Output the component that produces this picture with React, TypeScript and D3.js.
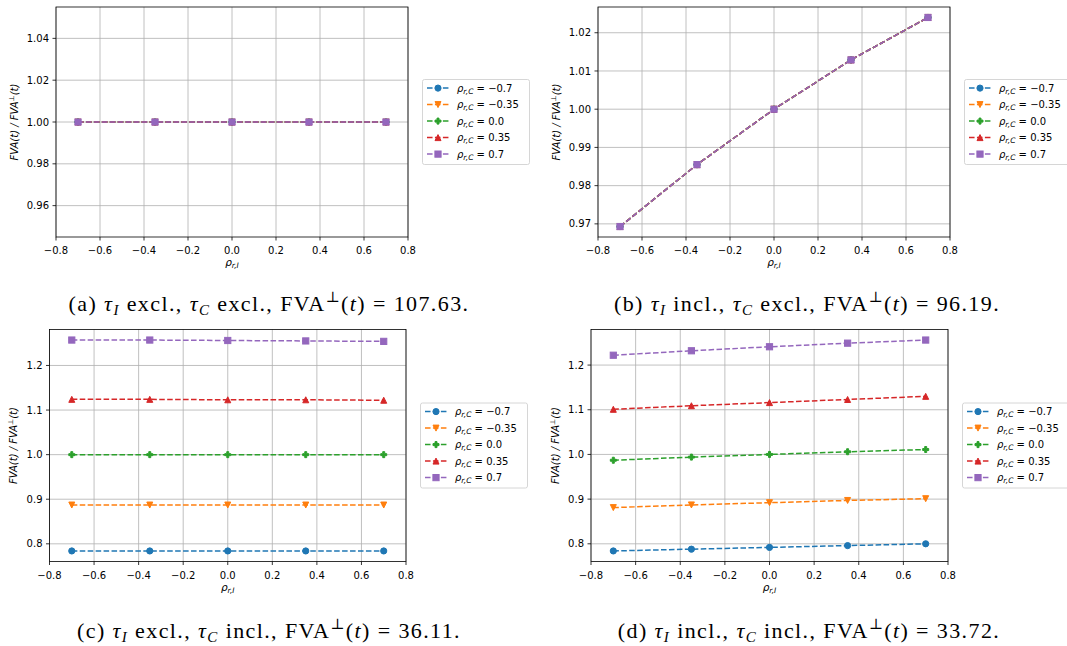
import React from "react";
import * as d3 from "d3";

// ---------- data ----------
const rhoRI = [-0.7, -0.35, 0.0, 0.35, 0.7];
const rhoRCLabels = ["\u22120.7", "\u22120.35", "0.0", "0.35", "0.7"];
const seriesColors = ["#1f77b4", "#ff7f0e", "#2ca02c", "#d62728", "#9467bd"];
const seriesMarkers = ["circle", "triangleDown", "plus", "triangleUp", "square"];

const xTicks = [-0.8, -0.6, -0.4, -0.2, 0.0, 0.2, 0.4, 0.6, 0.8];
const xDomain = [-0.8, 0.8];

// (a) tau_I excl., tau_C excl.
const aSeries1 = [1.0, 1.0, 1.0, 1.0, 1.0];
const aSeries2 = [1.0, 1.0, 1.0, 1.0, 1.0];
const aSeries3 = [1.0, 1.0, 1.0, 1.0, 1.0];
const aSeries4 = [1.0, 1.0, 1.0, 1.0, 1.0];
const aSeries5 = [1.0, 1.0, 1.0, 1.0, 1.0];
const aYTicks = [0.96, 0.98, 1.0, 1.02, 1.04];

// (b) tau_I incl., tau_C excl.
const bSeries1 = [0.9693, 0.9855, 1.0, 1.0129, 1.024];
const bSeries2 = [0.9693, 0.9855, 1.0, 1.0129, 1.024];
const bSeries3 = [0.9693, 0.9855, 1.0, 1.0129, 1.024];
const bSeries4 = [0.9693, 0.9855, 1.0, 1.0129, 1.024];
const bSeries5 = [0.9693, 0.9855, 1.0, 1.0129, 1.024];
const bYTicks = [0.97, 0.98, 0.99, 1.0, 1.01, 1.02];

// (c) tau_I excl., tau_C incl.
const cSeries1 = [0.784, 0.784, 0.784, 0.784, 0.784];
const cSeries2 = [0.887, 0.887, 0.887, 0.887, 0.887];
const cSeries3 = [1.0, 1.0, 1.0, 1.0, 1.0];
const cSeries4 = [1.124, 1.124, 1.123, 1.123, 1.122];
const cSeries5 = [1.257, 1.257, 1.256, 1.255, 1.254];
const cYTicks = [0.8, 0.9, 1.0, 1.1, 1.2];

// (d) tau_I incl., tau_C incl.
const dSeries1 = [0.784, 0.788, 0.792, 0.796, 0.8];
const dSeries2 = [0.881, 0.887, 0.892, 0.897, 0.901];
const dSeries3 = [0.987, 0.994, 1.0, 1.006, 1.011];
const dSeries4 = [1.101, 1.109, 1.116, 1.123, 1.13];
const dSeries5 = [1.222, 1.232, 1.241, 1.249, 1.256];
const dYTicks = [0.8, 0.9, 1.0, 1.1, 1.2];

const captionLetters = ["a", "b", "c", "d"];
const captionTauI = ["excl.", "incl.", "excl.", "incl."];
const captionTauC = ["excl.", "excl.", "incl.", "incl."];
const captionFVA = ["107.63", "96.19", "36.11", "33.72"];

// ---------- layout ----------
const W = 1067;
const H = 646;
const SANS = "'DejaVu Sans', sans-serif";
const SERIF = "'Liberation Serif', 'DejaVu Serif', serif";

type Panel = {
  series: number[][];
  yTicks: number[];
  yDec: number;
  box: { left: number; right: number; top: number; bottom: number };
  yLabelX: number;
  capX: number;
  capY: number;
};

const panels: Panel[] = [
  {
    series: [aSeries1, aSeries2, aSeries3, aSeries4, aSeries5],
    yTicks: aYTicks,
    yDec: 2,
    box: { left: 56, right: 408, top: 7, bottom: 237 },
    yLabelX: 14,
    capX: 269,
    capY: 311,
  },
  {
    series: [bSeries1, bSeries2, bSeries3, bSeries4, bSeries5],
    yTicks: bYTicks,
    yDec: 2,
    box: { left: 598, right: 950, top: 7, bottom: 237 },
    yLabelX: 556,
    capX: 807,
    capY: 311,
  },
  {
    series: [cSeries1, cSeries2, cSeries3, cSeries4, cSeries5],
    yTicks: cYTicks,
    yDec: 1,
    box: { left: 49.5, right: 406, top: 329.5, bottom: 561.5 },
    yLabelX: 13,
    capX: 269,
    capY: 638,
  },
  {
    series: [dSeries1, dSeries2, dSeries3, dSeries4, dSeries5],
    yTicks: dYTicks,
    yDec: 1,
    box: { left: 591, right: 948, top: 329.5, bottom: 561.5 },
    yLabelX: 555,
    capX: 809,
    capY: 638,
  },
];

function autoDomain(series: number[][]): [number, number] {
  const all = series.flat();
  let lo = d3.min(all) as number;
  let hi = d3.max(all) as number;
  if (hi - lo < 1e-12) {
    lo -= 0.05 * Math.abs(lo);
    hi += 0.05 * Math.abs(hi);
  }
  const m = (hi - lo) * 0.05;
  return [lo - m, hi + m];
}

function Marker({ kind, x, y, color }: { kind: string; x: number; y: number; color: string }) {
  const common = { fill: color, stroke: color, strokeWidth: 1, strokeLinejoin: "miter" as const };
  if (kind === "circle") return <circle cx={x} cy={y} r={3.1} {...common} />;
  if (kind === "square") return <rect x={x - 3.1} y={y - 3.1} width={6.2} height={6.2} {...common} />;
  if (kind === "triangleDown")
    return <polygon points={`${x},${y + 3} ${x - 3},${y - 3} ${x + 3},${y - 3}`} {...common} />;
  if (kind === "triangleUp")
    return <polygon points={`${x},${y - 3} ${x - 3},${y + 3} ${x + 3},${y + 3}`} {...common} />;
  // filled plus
  const pts = [
    [-1, -3], [1, -3], [1, -1], [3, -1], [3, 1], [1, 1], [1, 3], [-1, 3], [-1, 1], [-3, 1], [-3, -1], [-1, -1],
  ]
    .map(([a, b]) => `${x + a},${y + b}`)
    .join(" ");
  return <polygon points={pts} {...common} />;
}

const fmtTick = (v: number, dec: number) => {
  const s = Math.abs(v).toFixed(dec);
  return v < -1e-9 ? "\u2212" + s : s;
};

function PanelView({ p, idx }: { p: Panel; idx: number }) {
  const { left, right, top, bottom } = p.box;
  const x = d3.scaleLinear().domain(xDomain).range([left, right]);
  const y = d3.scaleLinear().domain(autoDomain(p.series)).range([bottom, top]);
  const line = d3
    .line<number>()
    .x((_, i) => x(rhoRI[i]))
    .y((d) => y(d));
  const midY = (top + bottom) / 2;
  const midX = (left + right) / 2;
  const legX = right + 14.5;
  const legH = 85;
  const legY = midY - legH / 2;
  const clipId = `clip-${idx}`;

  return (
    <g>
      <defs>
        <clipPath id={clipId}>
          <rect x={left} y={top} width={right - left} height={bottom - top} />
        </clipPath>
      </defs>
      {/* grid */}
      {xTicks.map((t) => (
        <line key={"gx" + t} x1={x(t)} x2={x(t)} y1={top} y2={bottom} stroke="#b0b0b0" strokeWidth={0.8} />
      ))}
      {p.yTicks.map((t) => (
        <line key={"gy" + t} x1={left} x2={right} y1={y(t)} y2={y(t)} stroke="#b0b0b0" strokeWidth={0.8} />
      ))}
      {/* series */}
      <g clipPath={`url(#${clipId})`}>
        {p.series.map((s, si) => (
          <g key={"s" + si}>
            <path d={line(s) || ""} fill="none" stroke={seriesColors[si]} strokeWidth={1.5} strokeDasharray="5.55 2.4" />
            {s.map((v, i) => (
              <Marker key={i} kind={seriesMarkers[si]} x={x(rhoRI[i])} y={y(v)} color={seriesColors[si]} />
            ))}
          </g>
        ))}
      </g>
      {/* spines */}
      <rect x={left} y={top} width={right - left} height={bottom - top} fill="none" stroke="#000" strokeWidth={0.8} />
      {/* x ticks */}
      {xTicks.map((t) => (
        <g key={"xt" + t}>
          <line x1={x(t)} x2={x(t)} y1={bottom} y2={bottom + 3.5} stroke="#000" strokeWidth={0.8} />
          <text x={x(t)} y={bottom + 17} fontFamily={SANS} fontSize={10} textAnchor="middle" fill="#000">
            {fmtTick(t, 1)}
          </text>
        </g>
      ))}
      {/* y ticks */}
      {p.yTicks.map((t) => (
        <g key={"yt" + t}>
          <line x1={left - 3.5} x2={left} y1={y(t)} y2={y(t)} stroke="#000" strokeWidth={0.8} />
          <text x={left - 7} y={y(t) + 3.6} fontFamily={SANS} fontSize={10} textAnchor="end" fill="#000">
            {fmtTick(t, p.yDec)}
          </text>
        </g>
      ))}
      {/* x label */}
      <text x={midX} y={bottom + 29} fontFamily={SANS} fontSize={10.5} textAnchor="middle" fill="#000">
        <tspan fontStyle="italic">ρ</tspan>
        <tspan fontStyle="italic" fontSize={7.5} dy={2}>r,I</tspan>
      </text>
      {/* y label */}
      <text
        transform={`translate(${p.yLabelX + 3.5},${midY}) rotate(-90)`}
        fontFamily={SANS}
        fontSize={10}
        fontStyle="italic"
        textAnchor="middle"
        fill="#000"
      >
        <tspan>FVA(t) / FVA</tspan>
        <tspan fontSize={7} dy={-4}>⊥</tspan>
        <tspan dy={4}>(t)</tspan>
      </text>
      {/* legend */}
      <rect x={legX} y={legY} width={107} height={legH} rx={2} fill="#fff" fillOpacity={0.8} stroke="#cccccc" strokeWidth={0.8} />
      {rhoRCLabels.map((lab, si) => {
        const ry = legY + 8.6 + si * 16.5;
        return (
          <g key={"lg" + si}>
            <line x1={legX + 4.5} x2={legX + 26.5} y1={ry} y2={ry} stroke={seriesColors[si]} strokeWidth={1.5} strokeDasharray="5.55 2.4" />
            <Marker kind={seriesMarkers[si]} x={legX + 15.5} y={ry} color={seriesColors[si]} />
            <text x={legX + 34.5} y={ry + 3.5} fontFamily={SANS} fontSize={10} fill="#000" xmlSpace="preserve">
              <tspan fontStyle="italic">ρ</tspan>
              <tspan fontStyle="italic" fontSize={7.5} dy={2}>r,C</tspan>
              <tspan dy={-2}>{" = " + lab}</tspan>
            </text>
          </g>
        );
      })}
      {/* caption */}
      <text
        x={p.capX}
        y={p.capY}
        fontFamily={SERIF}
        fontSize={22}
        letterSpacing={1.4}
        textAnchor="middle"
        fill="#000"
        xmlSpace="preserve"
      >
        <tspan>{`(${captionLetters[idx]}) `}</tspan>
        <tspan fontStyle="italic">τ</tspan>
        <tspan fontStyle="italic" fontSize={15} dy={4}>I</tspan>
        <tspan dy={-4}>{` ${captionTauI[idx]}, `}</tspan>
        <tspan fontStyle="italic">τ</tspan>
        <tspan fontStyle="italic" fontSize={15} dy={4}>C</tspan>
        <tspan dy={-4}>{` ${captionTauC[idx]}, FVA`}</tspan>
        <tspan fontSize={15} dy={-9}>⊥</tspan>
        <tspan dy={9}>(</tspan>
        <tspan fontStyle="italic">t</tspan>
        <tspan>{`) = ${captionFVA[idx]}.`}</tspan>
      </text>
    </g>
  );
}

export default function App() {
  return (
    <svg
      width={W}
      height={H}
      viewBox={`0 0 ${W} ${H}`}
      style={{ position: "absolute", left: 0, top: 0, background: "#fff" }}
    >
      <rect x={0} y={0} width={W} height={H} fill="#fff" />
      {panels.map((p, i) => (
        <PanelView key={i} p={p} idx={i} />
      ))}
    </svg>
  );
}
